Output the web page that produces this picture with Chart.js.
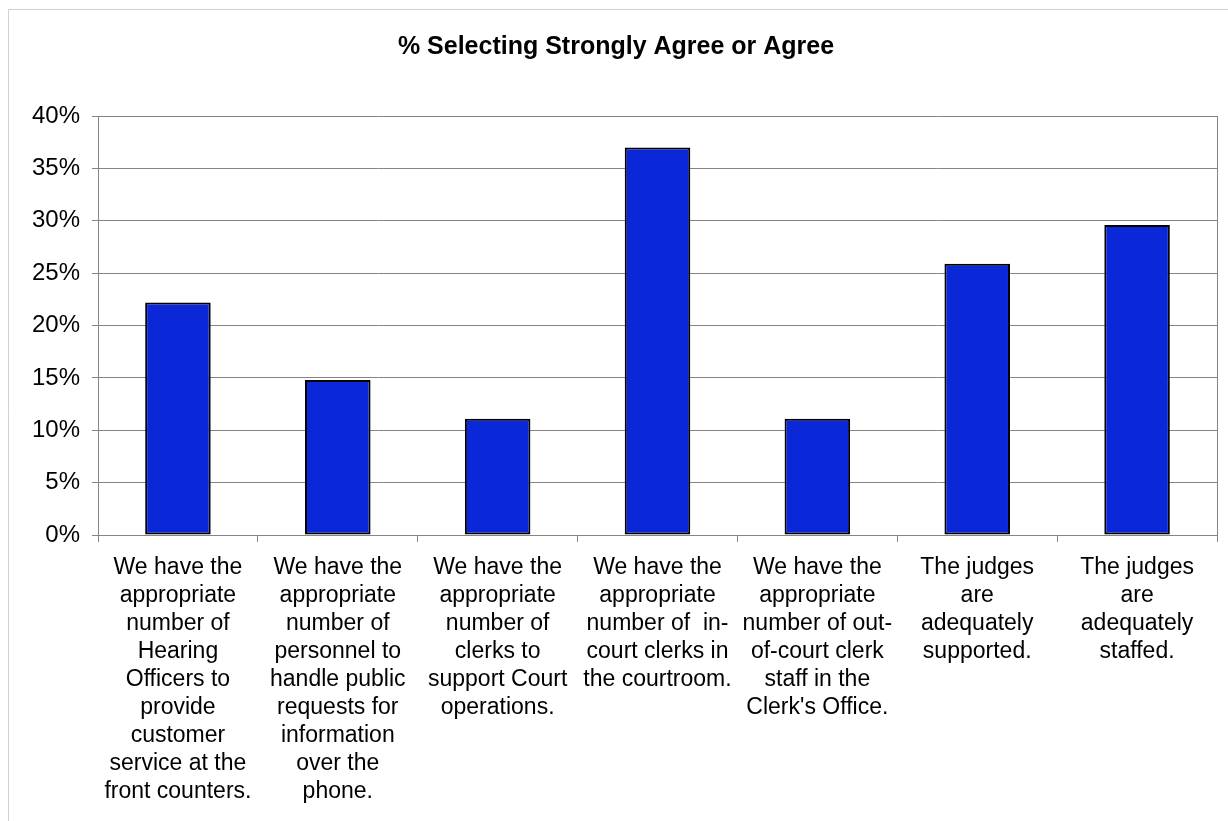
<!DOCTYPE html>
<html>
<head>
<meta charset="utf-8">
<script src="https://cdn.jsdelivr.net/npm/chart.js@4/dist/chart.umd.min.js"></script>
<style>
  html, body { margin: 0; padding: 0; background: #fff; }
  #wrap { width: 1228px; height: 821px; position: relative; }
</style>
</head>
<body>
<div id="wrap"><canvas id="c" width="1228" height="821"></canvas></div>
<script>
// Survey statements (x-axis categories), one array entry per wrapped line
const categories = [
  ["We have the", "appropriate", "number of", "Hearing", "Officers to", "provide", "customer", "service at the", "front counters."],
  ["We have the", "appropriate", "number of", "personnel to", "handle public", "requests for", "information", "over the", "phone."],
  ["We have the", "appropriate", "number of", "clerks to", "support Court", "operations."],
  ["We have the", "appropriate", "number of  in-", "court clerks in", "the courtroom."],
  ["We have the", "appropriate", "number of out-", "of-court clerk", "staff in the", "Clerk's Office."],
  ["The judges", "are", "adequately", "supported."],
  ["The judges", "are", "adequately", "staffed."]
];

// Share of respondents selecting Strongly Agree or Agree (%)
const agreePercent = [22.2, 14.8, 11.1, 37.0, 11.1, 25.9, 29.6];

// Value axis ticks (%)
const yTicks = [0, 5, 10, 15, 20, 25, 30, 35, 40];

const titleText = "% Selecting Strongly Agree or Agree";

const FONT = "'Liberation Sans', Arial, sans-serif";
const GRID = '#858585';

// White page with a light frame along the top and left edges, plus plot box
const framePlugin = {
  id: 'frame',
  beforeDraw(chart) {
    const ctx = chart.ctx;
    ctx.save();
    ctx.fillStyle = '#fff';
    ctx.fillRect(0, 0, chart.width, chart.height);
    ctx.strokeStyle = '#d0d0d0';
    ctx.lineWidth = 1;
    ctx.beginPath();
    ctx.moveTo(8.5, chart.height);
    ctx.lineTo(8.5, 9.5);
    ctx.lineTo(chart.width, 9.5);
    ctx.stroke();
    ctx.restore();
  },
  afterDatasetsDraw(chart) {
    const a = chart.chartArea;
    const ctx = chart.ctx;
    ctx.save();
    ctx.strokeStyle = GRID;
    ctx.lineWidth = 1;
    ctx.beginPath();
    ctx.moveTo(Math.round(a.right) + 0.5, a.top);
    ctx.lineTo(Math.round(a.right) + 0.5, a.bottom);
    ctx.stroke();
    ctx.restore();
  }
};

new Chart(document.getElementById('c'), {
  type: 'bar',
  data: {
    labels: categories,
    datasets: [{
      data: agreePercent,
      backgroundColor: '#0a28d8',
      borderColor: '#000',
      borderWidth: 2,
      borderSkipped: false,
      categoryPercentage: 1.0,
      barPercentage: 0.41
    }]
  },
  options: {
    responsive: false,
    animation: false,
    layout: { padding: { left: 15, right: 11, top: 0, bottom: 0 } },
    plugins: {
      legend: { display: false },
      tooltip: { enabled: false },
      title: {
        display: true,
        text: titleText,
        color: '#000',
        font: { family: FONT, size: 25, weight: 'bold', lineHeight: 1.2 },
        padding: { top: 32, bottom: 54 }
      }
    },
    scales: {
      x: {
        offset: true,
        grid: {
          offset: true,
          drawOnChartArea: false,
          drawTicks: true,
          tickLength: 7,
          color: GRID
        },
        border: { color: GRID, width: 1 },
        ticks: {
          color: '#000',
          font: { family: FONT, size: 23, lineHeight: '28px' },
          maxRotation: 0,
          minRotation: 0,
          autoSkip: false,
          padding: 12
        },
        afterFit(scale) { scale.height = 286; }
      },
      y: {
        min: 0,
        max: 40,
        afterBuildTicks(scale) { scale.ticks = yTicks.map(v => ({ value: v })); },
        grid: { color: GRID, tickLength: 6, lineWidth: 1 },
        border: { color: GRID, width: 1 },
        ticks: {
          color: '#000',
          font: { family: FONT, size: 24 },
          padding: 12,
          callback: v => v + '%'
        },
        afterFit(scale) { scale.width = 83; }
      }
    }
  },
  plugins: [framePlugin]
});
</script>
</body>
</html>
